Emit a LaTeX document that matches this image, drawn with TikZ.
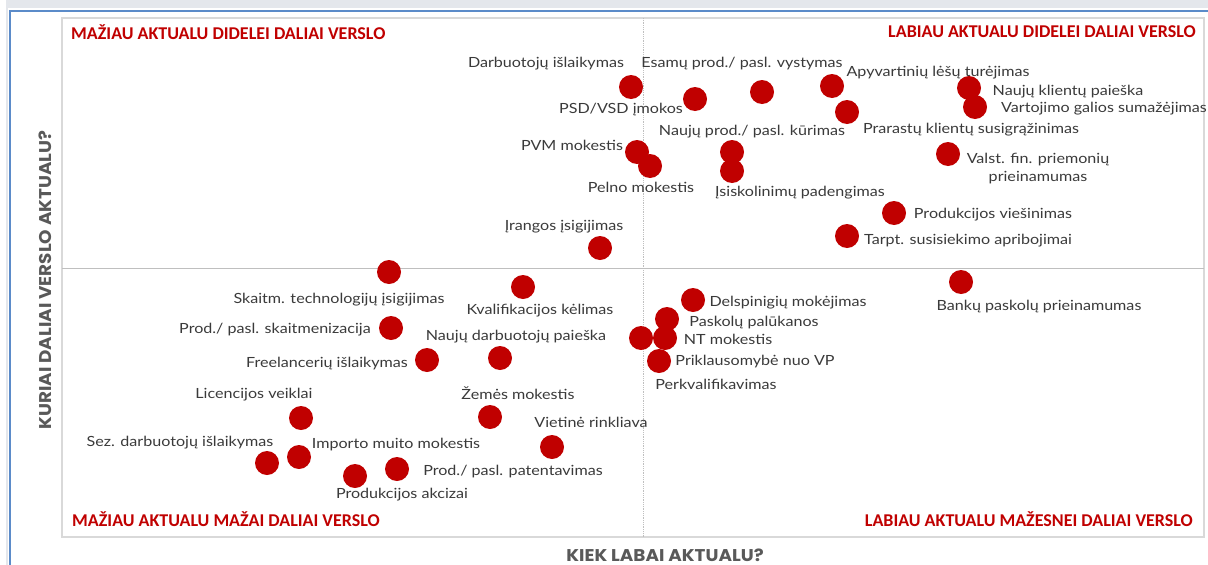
\documentclass[tikz,border=0pt]{standalone}
\usepackage{fontspec}
\setmainfont{Lato}
\newfontfamily\lblfamily{Lato}[FakeStretch=1.15]
\newfontfamily\quadfamily{Carlito}
\newfontfamily\axfamily{Poppins}[FakeStretch=1.08]
\definecolor{dotred}{HTML}{C00000}
\definecolor{quadred}{HTML}{C00000}
\definecolor{lblgray}{HTML}{3A3A3A}
\definecolor{axgray}{HTML}{595959}
\definecolor{framegray}{HTML}{D9D9D9}
\definecolor{bandgray}{HTML}{E4E7EC}
\definecolor{frameblue}{HTML}{5B8BC9}
\definecolor{midgray}{HTML}{BFBFBF}
\tikzset{
  dot/.style={circle, fill=dotred, minimum size=24pt, inner sep=0pt},
  lbl/.style={font=\lblfamily\fontsize{14}{18}\selectfont, text=lblgray, inner sep=0pt, align=center, yshift=-1.5pt},
  quad/.style={font=\quadfamily\bfseries\fontsize{18}{21}\selectfont, text=quadred, inner sep=0pt},
  axt/.style={font=\axfamily\bfseries\fontsize{17}{20}\selectfont, text=axgray, inner sep=0pt}
}
\begin{document}
\begin{tikzpicture}[x=1pt,y=-1pt]
\useasboundingbox (0,0) rectangle (1208,565);
\fill[white] (0,0) rectangle (1208,565);
% outer frame
\fill[bandgray] (6,0) rectangle (1208,8);
\fill[bandgray] (6,0) rectangle (8,565);
\draw[frameblue, line width=2pt] (9.5,565) -- (9.5,10.5) -- (1208,10.5);
% plot area
\draw[framegray, line width=1.5pt] (62,18) rectangle (1204,537);
\coordinate (vt) at (643,18);
\coordinate (vb) at (643,537);
\coordinate (hl) at (62,268);
\coordinate (hr) at (1204,268);
\draw[midgray, line width=0.8pt, densely dotted] (vt) -- (vb);
\draw[midgray, line width=1pt] (hl) -- (hr);
% quadrant titles
\node[quad, anchor=west] (q1) at (71,32) {MAŽIAU AKTUALU DIDELEI DALIAI VERSLO};
\node[quad, anchor=east] (q2) at (1196,32) {LABIAU AKTUALU DIDELEI DALIAI VERSLO};
\node[quad, anchor=west] (q3) at (72,519) {MAŽIAU AKTUALU MAŽAI DALIAI VERSLO};
\node[quad, anchor=east] (q4) at (1193,519) {LABIAU AKTUALU MAŽESNEI DALIAI VERSLO};
% axis titles
\node[axt] (ax) at (665,555) {KIEK LABAI AKTUALU?};
\node[axt, rotate=90] (ay) at (45,280) {KURIAI DALIAI VERSLO AKTUALU?};
% dots
\node[dot] (d1) at (631,87) {};
\node[dot] (d2) at (695,99) {};
\node[dot] (d3) at (762,92) {};
\node[dot] (d4) at (832,86) {};
\node[dot] (d5) at (969,88) {};
\node[dot] (d6) at (975,107) {};
\node[dot] (d7) at (847,112) {};
\node[dot] (d8) at (732,152) {};
\node[dot] (d9) at (637,152) {};
\node[dot] (d10) at (650,166) {};
\node[dot] (d11) at (732,171) {};
\node[dot] (d12) at (948,154) {};
\node[dot] (d13) at (894,213) {};
\node[dot] (d14) at (847,236) {};
\node[dot] (d15) at (600,248) {};
\node[dot] (d16) at (961,282) {};
\node[dot] (d17) at (389,272) {};
\node[dot] (d18) at (523,287) {};
\node[dot] (d19) at (693,300) {};
\node[dot] (d20) at (667,319) {};
\node[dot] (d21) at (665,338) {};
\node[dot] (d22) at (641,338) {};
\node[dot] (d23) at (659,361) {};
\node[dot] (d24) at (391,328) {};
\node[dot] (d25) at (500,358) {};
\node[dot] (d26) at (427,360) {};
\node[dot] (d27) at (301,418) {};
\node[dot] (d28) at (490,417) {};
\node[dot] (d29) at (552,447) {};
\node[dot] (d30) at (267,463) {};
\node[dot] (d31) at (299,457) {};
\node[dot] (d32) at (355,476) {};
\node[dot] (d33) at (397,469) {};
% labels
\node[lbl] (l1) at (546,62) {Darbuotojų išlaikymas};
\node[lbl] (l2) at (621,108) {PSD/VSD įmokos};
\node[lbl] (l3) at (742,62) {Esamų prod./ pasl. vystymas};
\node[lbl] (l4) at (938,71) {Apyvartinių lėšų turėjimas};
\node[lbl] (l5) at (1068,90) {Naujų klientų paieška};
\node[lbl] (l6) at (1104,107) {Vartojimo galios sumažėjimas};
\node[lbl] (l7) at (971,128) {Prarastų klientų susigrąžinimas};
\node[lbl] (l8) at (752,130) {Naujų prod./ pasl. kūrimas};
\node[lbl] (l9) at (572,144) {PVM mokestis};
\node[lbl] (l10) at (641,186) {Pelno mokestis};
\node[lbl] (l11) at (800,191) {Įsiskolinimų padengimas};
\node[lbl] (l12) at (1038,167) {Valst. fin. priemonių\\prieinamumas};
\node[lbl] (l13) at (993,213) {Produkcijos viešinimas};
\node[lbl] (l14) at (968,239) {Tarpt. susisiekimo apribojimai};
\node[lbl] (l15) at (564,225) {Įrangos įsigijimas};
\node[lbl] (l16) at (1039,305) {Bankų paskolų prieinamumas};
\node[lbl] (l17) at (339,298) {Skaitm. technologijų įsigijimas};
\node[lbl] (l18) at (540,309) {Kvalifikacijos kėlimas};
\node[lbl] (l19) at (788,301) {Delspinigių mokėjimas};
\node[lbl] (l20) at (754,321) {Paskolų palūkanos};
\node[lbl] (l21) at (728,338) {NT mokestis};
\node[lbl] (l22) at (716,383) {Perkvalifikavimas};
\node[lbl] (l23) at (755,360) {Priklausomybė nuo VP};
\node[lbl] (l24) at (275,328) {Prod./ pasl. skaitmenizacija};
\node[lbl] (l25) at (516,335) {Naujų darbuotojų paieška};
\node[lbl] (l26) at (327,362) {Freelancerių išlaikymas};
\node[lbl] (l27) at (254,393) {Licencijos veiklai};
\node[lbl] (l28) at (518,392) {Žemės mokestis};
\node[lbl] (l29) at (591,421) {Vietinė rinkliava};
\node[lbl] (l30) at (180,441) {Sez. darbuotojų išlaikymas};
\node[lbl] (l31) at (396,443) {Importo muito mokestis};
\node[lbl] (l32) at (402,493) {Produkcijos akcizai};
\node[lbl] (l33) at (513,470) {Prod./ pasl. patentavimas};
\end{tikzpicture}
\end{document}
